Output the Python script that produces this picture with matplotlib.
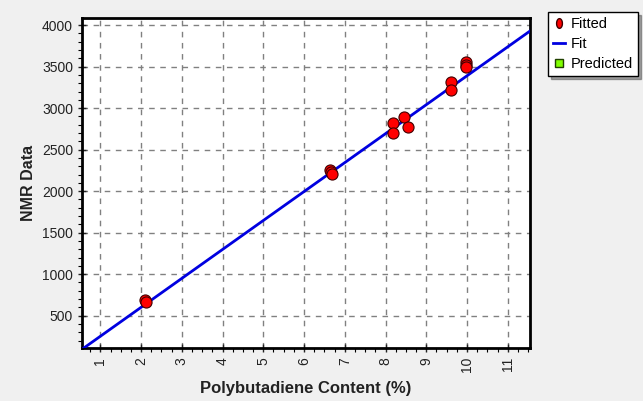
import matplotlib
matplotlib.use("Agg")
import matplotlib.pyplot as plt
from matplotlib.ticker import MultipleLocator
from matplotlib.lines import Line2D
from matplotlib.path import Path
import numpy as np

plt.rcParams["font.family"] = ["Liberation Sans", "DejaVu Sans"]

# Daten
fitted_x = [2.10, 2.13, 6.64, 6.66, 6.68, 8.18, 8.19, 8.46, 8.55, 9.60, 9.60, 9.97, 9.97, 9.98]
fitted_y = [690, 670, 2250, 2230, 2210, 2820, 2700, 2890, 2770, 3320, 3220, 3560, 3520, 3490]
fit_x = [0.55, 11.55]
fit_y = [95, 3930]
x_ticks = [1, 2, 3, 4, 5, 6, 7, 8, 9, 10, 11]
y_ticks = [500, 1000, 1500, 2000, 2500, 3000, 3500, 4000]

fig = plt.figure(figsize=(6.43, 4.01), dpi=100, facecolor="#f0f0f0")
ax = fig.add_axes([0.1275, 0.132, 0.697, 0.823])
ax.set_facecolor("white")

ax.plot(fit_x, fit_y, color="#0000e0", lw=2, zorder=3)
ax.plot(fitted_x, fitted_y, "o", ms=8, mfc="#ff0000", mec="#400000", mew=0.8, zorder=4)

ax.set_xlim(0.55, 11.55)
ax.set_ylim(110, 4085)
ax.set_xticks(x_ticks)
ax.set_yticks(y_ticks)
ax.xaxis.set_minor_locator(MultipleLocator(0.25))
ax.yaxis.set_minor_locator(MultipleLocator(100))
ax.tick_params(axis="x", labelrotation=90)
ax.tick_params(which="major", direction="inout", length=6, width=1, labelsize=10, colors="#222222")
ax.tick_params(which="minor", direction="out", length=3, width=0.8)
ax.grid(True, which="major", linestyle=(0, (4, 4)), color="#808080", lw=1)
for s in ax.spines.values():
    s.set_linewidth(2)
    s.set_color("black")

ax.set_xlabel("Polybutadiene Content (%)", fontsize=12, fontweight="bold", color="#222222", labelpad=6)
ax.set_ylabel("NMR Data", fontsize=11.5, fontweight="bold", color="#222222")

# kleiner senkrechter Ellipsen-Marker wie im Original
t = np.linspace(0, 2 * np.pi, 30)
ellipse = Path(np.column_stack([0.6 * np.cos(t), np.sin(t)]))

handles = [
    Line2D([], [], marker=ellipse, ls="none", ms=7, mfc="#ff0000", mec="#400000"),
    Line2D([], [], color="#0000e0", lw=2),
    Line2D([], [], marker="s", ls="none", ms=6, mfc="#80ff00", mec="#204000"),
]
leg = fig.legend(handles, ["Fitted", "Fit", "Predicted"], loc="upper left",
                 bbox_to_anchor=(548 / 643, 1 - 12 / 401), fontsize=10.5,
                 frameon=True, fancybox=False, shadow=True, handlelength=0.8,
                 handletextpad=0.4, borderpad=0.35, labelspacing=0.4, borderaxespad=0)
leg.get_frame().set_edgecolor("black")
leg.get_frame().set_linewidth(1)

fig.savefig("out.png", dpi=100, facecolor=fig.get_facecolor())
